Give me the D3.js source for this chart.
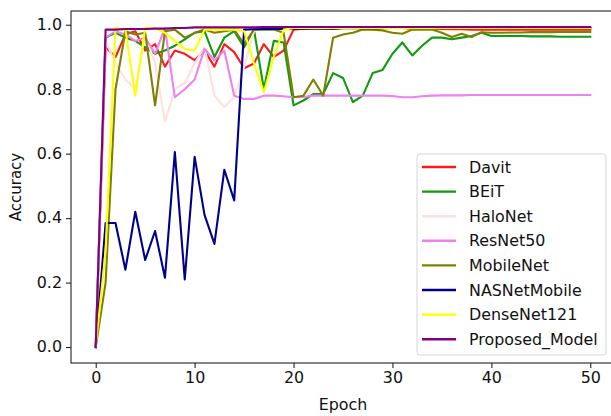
<!DOCTYPE html>
<html>
<head>
<meta charset="utf-8">
<script src="https://cdn.jsdelivr.net/npm/d3@7"></script>
<style>
  html, body { margin: 0; padding: 0; background: #fff; }
  svg { display: block; font-family: "DejaVu Sans", sans-serif; }
</style>
</head>
<body>
<div id="chart"></div>
<script>
const epochs = d3.range(0, 51);

const davit = [0, 0.93, 0.90, 0.97, 0.98, 0.92, 0.94, 0.87, 0.92, 0.91, 0.89, 0.92, 0.87, 0.94, 0.915, 0.865, 0.88, 0.94, 0.90, 0.92,
  0.985, 0.988, 0.99, 0.99, 0.988, 0.99, 0.99, 0.99, 0.988, 0.99, 0.99, 0.99, 0.988, 0.988, 0.988, 0.987, 0.986, 0.986, 0.985, 0.985,
  0.985, 0.985, 0.985, 0.985, 0.985, 0.985, 0.985, 0.985, 0.985, 0.985, 0.985];
const beit = [0, 0.96, 0.975, 0.96, 0.95, 0.93, 0.91, 0.92, 0.935, 0.955, 0.975, 0.98, 0.90, 0.96, 0.98, 0.93, 0.985, 0.80, 0.95, 0.945,
  0.75, 0.765, 0.785, 0.785, 0.85, 0.835, 0.76, 0.78, 0.85, 0.86, 0.91, 0.945, 0.905, 0.935, 0.96, 0.96, 0.955, 0.96, 0.965, 0.975,
  0.965, 0.965, 0.965, 0.965, 0.964, 0.964, 0.964, 0.963, 0.963, 0.963, 0.963];
const halonet = [0, 0.95, 0.88, 0.83, 0.80, 0.97, 0.88, 0.70, 0.80, 0.82, 0.88, 0.93, 0.78, 0.745, 0.775, 0.87, 0.98, 0.99, 0.99, 0.99,
  0.99, 0.99, 0.99, 0.99, 0.99, 0.99, 0.99, 0.99, 0.99, 0.99, 0.99, 0.99, 0.99, 0.99, 0.99, 0.99, 0.99, 0.99, 0.99, 0.99,
  0.99, 0.99, 0.99, 0.99, 0.99, 0.99, 0.99, 0.99, 0.99, 0.99, 0.99];
const resnet50 = [0, 0.96, 0.98, 0.97, 0.95, 0.96, 0.91, 0.99, 0.775, 0.80, 0.83, 0.925, 0.89, 0.92, 0.78, 0.77, 0.77, 0.78, 0.78, 0.778,
  0.775, 0.776, 0.78, 0.78, 0.78, 0.78, 0.78, 0.78, 0.78, 0.78, 0.779, 0.775, 0.775, 0.778, 0.78, 0.781, 0.781, 0.781, 0.782, 0.782,
  0.782, 0.782, 0.782, 0.782, 0.782, 0.782, 0.782, 0.782, 0.782, 0.782, 0.782];
const mobilenet = [0, 0.2, 0.8, 0.98, 0.97, 0.975, 0.75, 0.98, 0.985, 0.96, 0.975, 0.985, 0.975, 0.98, 0.985, 0.94, 0.985, 0.985, 0.985, 0.975,
  0.775, 0.78, 0.83, 0.78, 0.96, 0.97, 0.975, 0.985, 0.985, 0.982, 0.975, 0.972, 0.985, 0.985, 0.985, 0.975, 0.962, 0.972, 0.962, 0.977,
  0.975, 0.975, 0.976, 0.976, 0.977, 0.977, 0.977, 0.978, 0.978, 0.978, 0.978];
const nasnet = [0, 0.385, 0.385, 0.24, 0.42, 0.27, 0.36, 0.215, 0.605, 0.21, 0.59, 0.41, 0.32, 0.55, 0.455, 0.985, 0.986, 0.987, 0.987, 0.987,
  0.988, 0.988, 0.988, 0.988, 0.988, 0.989, 0.989, 0.989, 0.989, 0.989, 0.99, 0.99, 0.99, 0.99, 0.99, 0.99, 0.99, 0.99, 0.99, 0.99,
  0.99, 0.99, 0.99, 0.99, 0.99, 0.99, 0.99, 0.99, 0.99, 0.99, 0.99];
const densenet121 = [0, 0.3, 0.99, 0.985, 0.78, 0.99, 0.99, 0.975, 0.95, 0.925, 0.92, 0.985, 0.985, 0.985, 0.985, 0.98, 0.88, 0.79, 0.90, 0.985,
  0.99, 0.99, 0.99, 0.99, 0.99, 0.99, 0.99, 0.99, 0.99, 0.99, 0.99, 0.99, 0.99, 0.99, 0.99, 0.99, 0.99, 0.99, 0.99, 0.99,
  0.99, 0.99, 0.99, 0.99, 0.99, 0.99, 0.99, 0.99, 0.99, 0.99, 0.99];
const proposed = [0, 0.985, 0.985, 0.987, 0.987, 0.987, 0.988, 0.988, 0.99, 0.99, 0.992, 0.992, 0.992, 0.992, 0.992, 0.992, 0.992, 0.993, 0.993, 0.993,
  0.993, 0.993, 0.993, 0.993, 0.993, 0.993, 0.993, 0.993, 0.993, 0.993, 0.993, 0.993, 0.993, 0.993, 0.993, 0.993, 0.993, 0.993, 0.993, 0.993,
  0.993, 0.993, 0.993, 0.993, 0.993, 0.993, 0.993, 0.993, 0.993, 0.993, 0.993];

const seriesNames = ['Davit', 'BEiT', 'HaloNet', 'ResNet50', 'MobileNet', 'NASNetMobile', 'DenseNet121', 'Proposed_Model'];
const seriesValues = [davit, beit, halonet, resnet50, mobilenet, nasnet, densenet121, proposed];
const seriesColors = ['#ff1a1a', '#119911', '#ffe0de', '#ee82ee', '#808000', '#00008b', '#ffff00', '#800080'];

const xTicks = [0, 10, 20, 30, 40, 50];
const yTicks = [0.0, 0.2, 0.4, 0.6, 0.8, 1.0];

const W = 611, H = 416;
const plot = { left: 71, right: 615, top: 11, bottom: 363 };
const SX = 1.06; // the source image is stretched horizontally a bit
const FS = '15px';

const svg = d3.select('#chart').append('svg')
  .attr('width', W)
  .attr('height', H);

const x = d3.scaleLinear().domain([-2.5, 52.5]).range([plot.left, plot.right]);
const y = d3.scaleLinear().domain([-0.0495, 1.0427]).range([plot.bottom, plot.top]);

svg.append('defs').append('clipPath').attr('id', 'clip')
  .append('rect')
  .attr('x', plot.left).attr('y', plot.top)
  .attr('width', plot.right - plot.left).attr('height', plot.bottom - plot.top);

// Lines, drawn in legend order so Proposed_Model ends up on top
const line = d3.line()
  .x((d, i) => x(epochs[i]))
  .y(d => y(d));

const linesG = svg.append('g').attr('clip-path', 'url(#clip)');
seriesValues.forEach((vals, k) => {
  linesG.append('path')
    .datum(vals)
    .attr('d', line)
    .attr('fill', 'none')
    .attr('stroke', seriesColors[k])
    .attr('stroke-width', 2.1)
    .attr('stroke-linejoin', 'round')
    .attr('stroke-linecap', 'square');
});

// Axes
const xAxis = svg.append('g')
  .attr('transform', `translate(0,${plot.bottom})`)
  .call(d3.axisBottom(x).tickValues(xTicks).tickSize(5).tickPadding(4).tickFormat(d3.format('d')));
const yAxis = svg.append('g')
  .attr('transform', `translate(${plot.left},0)`)
  .call(d3.axisLeft(y).tickValues(yTicks).tickSize(5).tickPadding(4).tickFormat(d3.format('.1f')));

[xAxis, yAxis].forEach(g => {
  g.select('.domain').remove();
  g.selectAll('.tick line').attr('stroke', '#222').attr('stroke-width', 1.1);
  g.selectAll('.tick text')
    .attr('fill', '#111')
    .style('font-size', FS)
    .style('font-family', '"DejaVu Sans", sans-serif');
});
xAxis.selectAll('.tick text').attr('transform', `scale(${SX},1)`).attr('x', 0);
yAxis.selectAll('.tick text').attr('transform', `translate(-9,0) scale(${SX},1)`).attr('x', 0);

// Frame
svg.append('rect')
  .attr('x', plot.left).attr('y', plot.top)
  .attr('width', plot.right - plot.left).attr('height', plot.bottom - plot.top)
  .attr('fill', 'none')
  .attr('stroke', '#222')
  .attr('stroke-width', 1.1);

// Axis labels
svg.append('text')
  .attr('transform', `translate(${x(25)},410) scale(${SX},1)`)
  .attr('text-anchor', 'middle')
  .attr('fill', '#111')
  .style('font-size', FS)
  .text('Epoch');

svg.append('text')
  .attr('transform', `translate(21,${(plot.top + plot.bottom) / 2}) rotate(-90) scale(1,${SX})`)
  .attr('text-anchor', 'middle')
  .attr('fill', '#111')
  .style('font-size', FS)
  .text('Accuracy');

// Legend
const legend = svg.append('g').attr('transform', 'translate(417,154)');
legend.append('rect')
  .attr('width', 189).attr('height', 201)
  .attr('rx', 3)
  .attr('fill', 'rgba(255,255,255,0.85)')
  .attr('stroke', '#d6d6d6');

seriesNames.forEach((name, k) => {
  const cy = 13 + k * 24.6;
  legend.append('line')
    .attr('x1', 5).attr('x2', 39)
    .attr('y1', cy).attr('y2', cy)
    .attr('stroke', seriesColors[k])
    .attr('stroke-width', 2.4);
  legend.append('text')
    .attr('transform', `translate(52,${cy + 5.5}) scale(${SX},1)`)
    .attr('fill', '#111')
    .style('font-size', FS)
    .text(name);
});
</script>
</body>
</html>
